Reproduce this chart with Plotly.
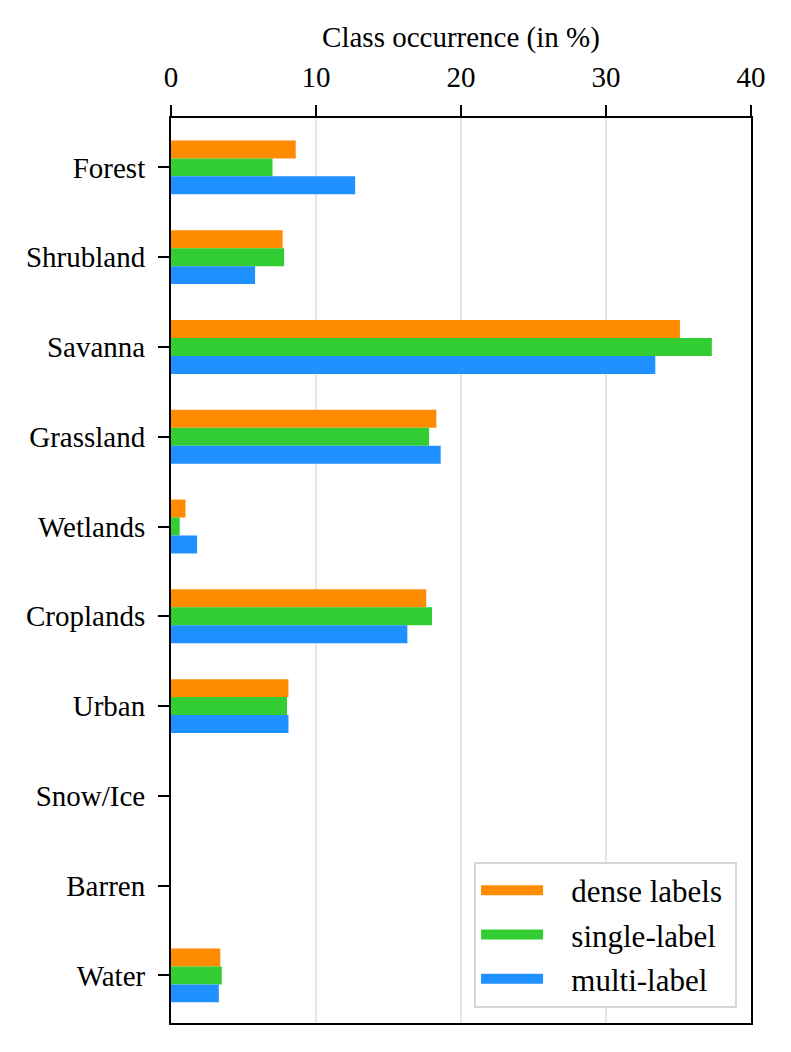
import plotly.graph_objects as go

classes = ["Forest", "Shrubland", "Savanna", "Grassland", "Wetlands",
           "Croplands", "Urban", "Snow/Ice", "Barren", "Water"]
dense_labels = [8.6, 7.7, 35.1, 18.3, 1.0, 17.6, 8.1, 0.0, 0.0, 3.4]
single_label = [7.0, 7.8, 37.3, 17.8, 0.6, 18.0, 8.0, 0.0, 0.0, 3.5]
multi_label = [12.7, 5.8, 33.4, 18.6, 1.8, 16.3, 8.1, 0.0, 0.0, 3.3]

series = [
    ("dense labels", dense_labels, "#FF8C00"),
    ("single-label", single_label, "#32CD32"),
    ("multi-label", multi_label, "#1E90FF"),
]

FONT = "Liberation Serif, Times New Roman, serif"
GAP = "\u00a0" * 3  # space between legend swatch and text

fig = go.Figure()
for name, vals, color in series:
    fig.add_trace(go.Bar(
        x=vals, y=classes, orientation="h", name=name,
        marker={"color": color, "line": {"width": 0}},
        showlegend=False, legendgroup=name,
    ))
    # wide legend swatch via a dummy line trace
    fig.add_trace(go.Scatter(
        x=[None], y=[None], mode="lines", name=GAP + name + "\u00a0",
        legendgroup=name, line={"color": color, "width": 22},
    ))

axis_common = dict(
    showline=True, linecolor="black", linewidth=2, mirror=True,
    ticks="outside", ticklen=11, tickwidth=2, tickcolor="black",
    tickfont={"size": 29, "color": "black", "family": FONT},
)

# the page adds ~8px body margin, so the figure is sized a bit smaller
fig.update_layout(
    width=783, height=1044,
    margin={"l": 163, "r": 40, "t": 110, "b": 29, "autoexpand": False},
    plot_bgcolor="white", paper_bgcolor="white",
    barmode="group", bargap=0.4, bargroupgap=0,
    font={"family": FONT, "color": "black"},
    xaxis=dict(
        side="top", range=[0, 40], tickvals=[0, 10, 20, 30, 40],
        showgrid=True, gridcolor="#e6e6e6", gridwidth=1.5, zeroline=False,
        ticklabelstandoff=6, automargin=False,
        title={"text": "Class occurrence (in %)", "font": {"size": 29}, "standoff": 5},
        **axis_common,
    ),
    yaxis=dict(
        autorange=False, range=[9.53, -0.55], showgrid=False,
        categoryorder="array", categoryarray=classes,
        ticklabelstandoff=7, automargin=False,
        **axis_common,
    ),
    legend=dict(
        x=0.976, y=0.017, xanchor="right", yanchor="bottom",
        bgcolor="white", bordercolor="#d5d5d5", borderwidth=2,
        font={"size": 31, "family": FONT, "color": "black"},
        traceorder="grouped", tracegroupgap=1, itemwidth=62,
    ),
)

fig.write_html("out.html")
